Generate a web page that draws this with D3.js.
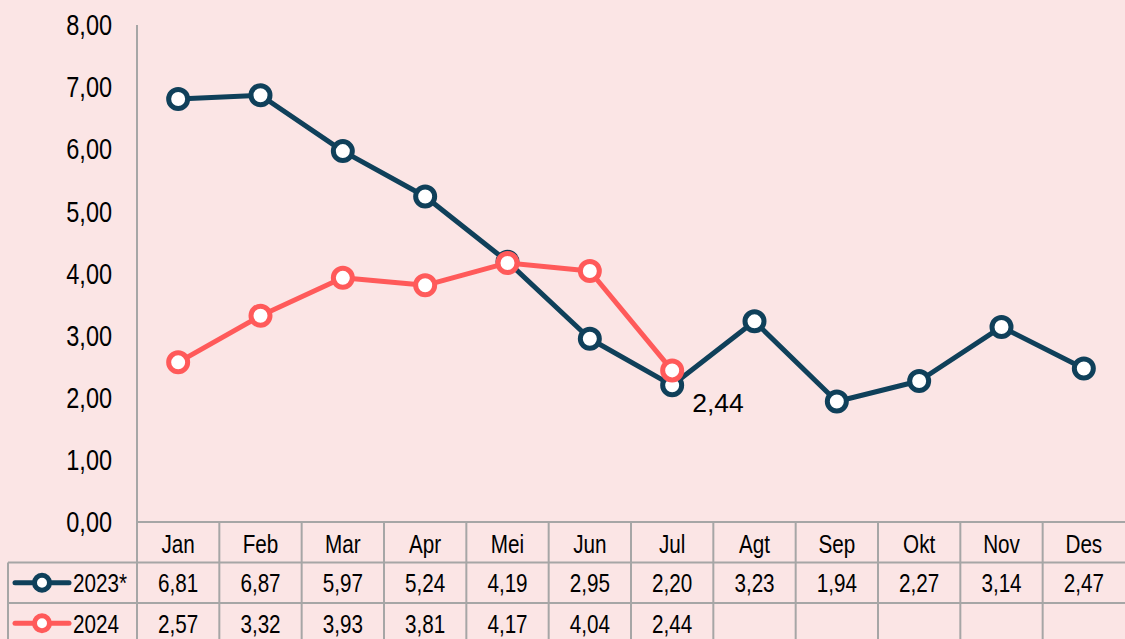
<!DOCTYPE html>
<html>
<head>
<meta charset="utf-8">
<script src="https://cdn.jsdelivr.net/npm/d3@7"></script>
<style>
  body { margin: 0; background: #fbe5e5; }
  text { font-family: "Liberation Sans", Arial, sans-serif; fill: #000; }
</style>
</head>
<body>
<script>
var months = ["Jan", "Feb", "Mar", "Apr", "Mei", "Jun", "Jul", "Agt", "Sep", "Okt", "Nov", "Des"];
var series2023 = [6.81, 6.87, 5.97, 5.24, 4.19, 2.95, 2.20, 3.23, 1.94, 2.27, 3.14, 2.47];
var series2024 = [2.57, 3.32, 3.93, 3.81, 4.17, 4.04, 2.44];
var seriesNames = ["2023*", "2024"];
var yTicks = [0, 1, 2, 3, 4, 5, 6, 7, 8];

var width = 1125, height = 639;
var plotLeft = 137, plotRight = 1125, plotTop = 25, plotBottom = 522;
var rowH = 40.5;

var colors = ["#0f405a", "#ff5a5a"];
var fmt = function(v) { return v.toFixed(2).replace(".", ","); };

var svg = d3.select("body").append("svg")
    .attr("width", width)
    .attr("height", height);

var x = d3.scaleBand().domain(months).range([plotLeft, plotRight]);
var y = d3.scaleLinear().domain([0, 8]).range([plotBottom, plotTop]);

// text helper: placed by transform so it can be squeezed horizontally (narrow font look)
function label(sel, px, py, size, anchor, squeeze) {
  return sel
      .attr("transform", function(d, i) {
        return "translate(" + px(d, i) + "," + py(d, i) + ") scale(" + squeeze + ",1)";
      })
      .attr("dy", "0.35em")
      .attr("text-anchor", anchor)
      .style("font-size", size + "px");
}

// y axis labels
label(svg.selectAll(".ytick").data(yTicks).enter().append("text"),
    function() { return 112; }, function(d) { return y(d); }, 29, "end", 0.81)
    .text(fmt);

// table grid
var grid = svg.append("g").attr("stroke", "#a6a6a6").attr("stroke-width", 2);
grid.append("line").attr("x1", plotLeft).attr("x2", plotLeft).attr("y1", plotTop).attr("y2", height);
grid.append("line").attr("x1", plotLeft).attr("x2", plotRight).attr("y1", plotBottom).attr("y2", plotBottom);
[1, 2, 3].forEach(function(r) {
  grid.append("line").attr("x1", 8).attr("x2", plotRight)
      .attr("y1", plotBottom + rowH * r).attr("y2", plotBottom + rowH * r);
});
grid.append("line").attr("x1", 8).attr("x2", 8).attr("y1", plotBottom + rowH).attr("y2", height);
grid.selectAll(".vcol").data(months.slice(1)).enter().append("line")
    .attr("x1", function(d) { return x(d); })
    .attr("x2", function(d) { return x(d); })
    .attr("y1", plotBottom).attr("y2", height);

// header
label(svg.selectAll(".mon").data(months).enter().append("text"),
    function(d) { return x(d) + x.bandwidth() / 2; },
    function() { return plotBottom + rowH / 2 + 1.5; }, 26.5, "middle", 0.78)
    .text(function(d) { return d; });

// lines
var line = d3.line()
    .x(function(d, i) { return x(months[i]) + x.bandwidth() / 2; })
    .y(function(d) { return y(d); });

[series2023, series2024].forEach(function(s, k) {
  var g = svg.append("g");
  g.append("path").datum(s)
      .attr("d", line)
      .attr("fill", "none")
      .attr("stroke", colors[k])
      .attr("stroke-width", 5)
      .attr("stroke-linejoin", "round");
  g.selectAll("circle").data(s).enter().append("circle")
      .attr("cx", function(d, i) { return x(months[i]) + x.bandwidth() / 2; })
      .attr("cy", function(d) { return y(d); })
      .attr("r", 9.5)
      .attr("fill", "#fff")
      .attr("stroke", colors[k])
      .attr("stroke-width", 5);

  // table row
  var ry = plotBottom + rowH * (k + 1) + rowH / 2;
  label(svg.selectAll(".row" + k).data(s).enter().append("text"),
      function(d, i) { return x(months[i]) + x.bandwidth() / 2; },
      function() { return ry; }, 26.5, "middle", 0.78)
      .text(fmt);
  svg.append("line").attr("x1", 15).attr("x2", 69).attr("y1", ry).attr("y2", ry)
      .attr("stroke", colors[k]).attr("stroke-width", 5).attr("stroke-linecap", "round");
  svg.append("circle").attr("cx", 42).attr("cy", ry).attr("r", 7.5)
      .attr("fill", "#fff").attr("stroke", colors[k]).attr("stroke-width", 5);
  label(svg.append("text").datum(seriesNames[k]),
      function() { return 73; }, function() { return ry; }, 26.5, "start", 0.78)
      .text(seriesNames[k]);
});

// data label for last 2024 point
var last = series2024.length - 1;
label(svg.append("text").datum(series2024[last]),
    function() { return x(months[last]) + x.bandwidth() / 2 + 20; },
    function(d) { return y(d) + 32; }, 26.5, "start", 1)
    .text(fmt(series2024[last]));
</script>
</body>
</html>
